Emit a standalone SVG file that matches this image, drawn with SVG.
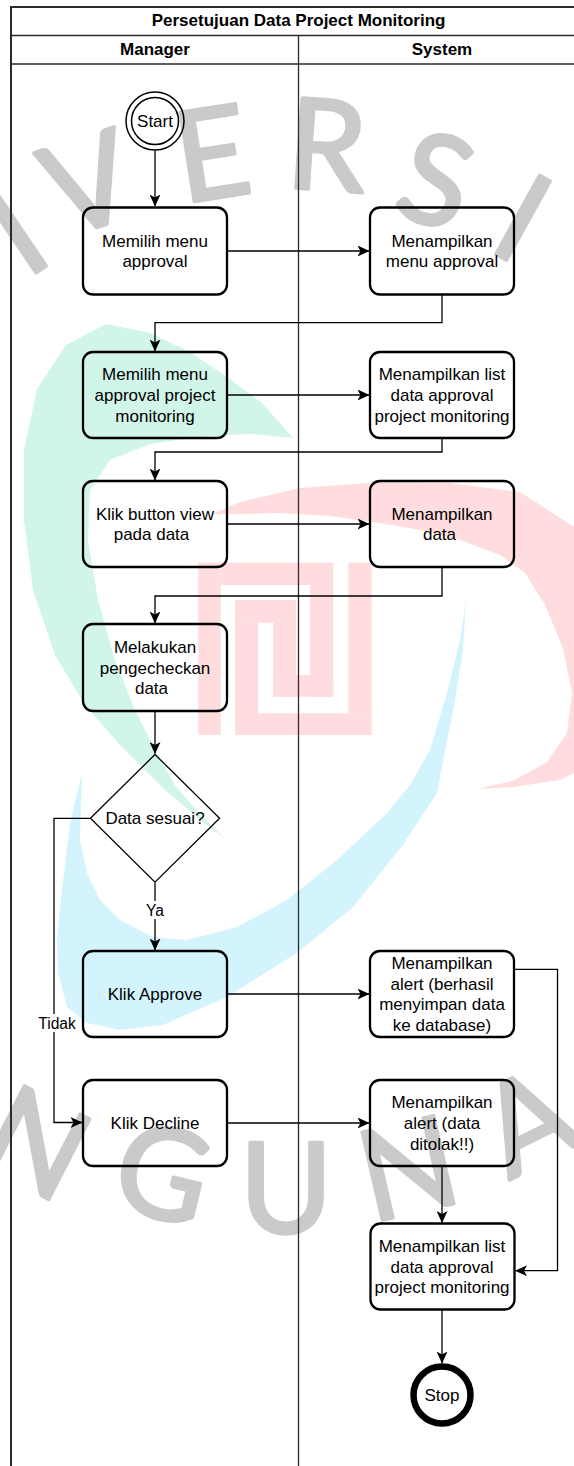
<svg xmlns="http://www.w3.org/2000/svg" width="574" height="1466" viewBox="0 0 574 1466">
<defs>
<style>
.wm{font-family:Lato,"Open Sans","DejaVu Sans",sans-serif;font-weight:400;font-size:126px;fill:#cacaca;stroke:#cacaca;stroke-width:3.5;stroke-linejoin:round;text-anchor:middle}
.frame{fill:none;stroke:#2b2b2b}
.box{fill:none;stroke:#000;stroke-width:2.3}
.t{font-family:"Liberation Sans",Arial,sans-serif;font-size:17px;fill:#000;text-anchor:middle}
.hb{font-family:"Liberation Sans",Arial,sans-serif;font-size:17px;font-weight:bold;fill:#000;text-anchor:middle}
.lbl{font-family:"Liberation Sans",Arial,sans-serif;font-size:15.6px;fill:#000;text-anchor:middle}
.ln{fill:none;stroke:#000;stroke-width:1.3}
</style>
<marker id="ah" markerWidth="12" markerHeight="11" refX="11.5" refY="5.5" orient="auto" markerUnits="userSpaceOnUse">
<path d="M0,0 L12,5.5 L0,11 L3,5.5 Z" fill="#000"/>
</marker>
</defs>
<rect width="574" height="1466" fill="#fff"/>
<g id="watermark">
<path fill="#d2f5e9" d="M293,438 L262,403 L227,377 L190,352 L150,333 L106,324 L66,345 L37,389 L24,450 L24,520 L33,590 L55,655 L85,705 L120,745 L165,790 L210,828 L250,855 L225,838 L200,815 L175,785 L155,750 L135,710 L115,660 L98,600 L88,540 L90,490 L110,460 L150,444 L200,437 L250,434 Z"/>
<path fill="#d4f4fd" d="M466,600 L463,650 L455,700 L437,793 L403,845 L353,907 L297,953 L227,997 L163,1025 L120,1030 L87,1023 L67,1007 L58,973 L57,940 L60,907 L70,823 L82,773 L80,840 L87,873 L100,900 L120,920 L153,937 L187,940 L237,927 L287,900 L337,860 L387,813 L410,785 L430,750 L447,693 L460,640 Z"/>
<path fill="#ffdcdd" d="M212,514 L240,502 L300,488 L380,482 L450,483 L520,492 L574,527 L610,570 L630,640 L625,720 L600,760 L560,780 L513,787 L477,789 L513,781 L547,762 L567,733 L572,693 L563,648 L545,605 L525,573 L500,555 L460,540 L420,530 L380,523 L330,516 L280,513 L240,514 Z"/>
<g fill="#ffdcdd">
<rect x="198.3" y="562.7" width="22.4" height="172.3"/>
<rect x="220.7" y="562.7" width="112.6" height="22.3"/>
<rect x="310" y="585" width="23.3" height="111.7"/>
<rect x="273.3" y="675" width="60" height="21.7"/>
<rect x="273.3" y="600" width="22.7" height="96.7"/>
<rect x="235" y="600" width="61" height="22.7"/>
<rect x="235" y="622.7" width="23.3" height="112.3"/>
<rect x="235" y="713.3" width="136.7" height="21.7"/>
<rect x="348.3" y="562.7" width="23.4" height="150.6"/>
</g>
<text class="wm" transform="translate(16,232) rotate(-34)" y="45">I</text>
<text class="wm" transform="translate(88,183) rotate(-18)" y="45">V</text>
<text class="wm" transform="translate(212,153) rotate(-9)" y="45">E</text>
<text class="wm" transform="translate(327,145) rotate(4)" y="45">R</text>
<text class="wm" transform="translate(436,180) rotate(17)" y="45">S</text>
<text class="wm" transform="translate(523,218) rotate(29)" y="45">I</text>
<text class="wm" transform="translate(38,1140) rotate(27)" y="48" font-size="134">N</text>
<text class="wm" transform="translate(163,1173) rotate(13.6)" y="45">G</text>
<text class="wm" transform="translate(286,1188)" y="45">U</text>
<text class="wm" transform="translate(408,1168) rotate(-13)" y="45">N</text>
<text class="wm" transform="translate(527,1121) rotate(-26.5)" y="45">A</text>
</g>
<g id="pool">
<path class="frame" stroke-width="2" d="M11,1470 V7 H590"/>
<path class="frame" stroke-width="1.5" d="M11,35.5 H590 M11,64 H590"/>
<path class="frame" stroke-width="1.3" d="M298.5,35.5 V1470"/>
<text class="hb" x="298.6" y="26.3">Persetujuan Data Project Monitoring</text>
<text class="hb" x="155" y="55.3">Manager</text>
<text class="hb" x="442" y="55.3">System</text>
</g>
<g id="connectors">
<path class="ln" marker-end="url(#ah)" d="M155,150.5 V206"/>
<path class="ln" marker-end="url(#ah)" d="M227,251 H369"/>
<path class="ln" marker-end="url(#ah)" d="M442,295 V322.7 H155 V351"/>
<path class="ln" marker-end="url(#ah)" d="M227,395 H369"/>
<path class="ln" marker-end="url(#ah)" d="M442,438.5 V452 H155 V480"/>
<path class="ln" marker-end="url(#ah)" d="M227,524 H369"/>
<path class="ln" marker-end="url(#ah)" d="M442,567.5 V596 H155 V623"/>
<path class="ln" marker-end="url(#ah)" d="M155,711.5 V753.5"/>
<path class="ln" marker-end="url(#ah)" d="M155,882.7 V950"/>
<rect x="144" y="901" width="22" height="18" fill="#fff"/>
<text class="lbl" x="155" y="915.6">Ya</text>
<path class="ln" marker-end="url(#ah)" d="M90.4,818.3 H54 V1122.5 H82"/>
<rect x="37" y="1014" width="40" height="18" fill="#fff"/>
<text class="lbl" x="57" y="1028.9">Tidak</text>
<path class="ln" marker-end="url(#ah)" d="M227,994 H369"/>
<path class="ln" marker-end="url(#ah)" d="M514,969.3 H557.5 V1270.7 H515.5"/>
<path class="ln" marker-end="url(#ah)" d="M227,1123 H369"/>
<path class="ln" marker-end="url(#ah)" d="M442,1166.5 V1222.5"/>
<path class="ln" marker-end="url(#ah)" d="M442,1309.5 V1363"/>
</g>
<g id="start">
<circle cx="155" cy="121" r="29" fill="none" stroke="#000" stroke-width="1.5"/>
<circle cx="155" cy="121" r="23.5" fill="none" stroke="#000" stroke-width="1.5"/>
<text class="t" x="155" y="127">Start</text>
</g>
<g id="n1">
<rect class="box" x="83" y="207.5" width="144" height="87" rx="10"/>
<text class="t" x="155" y="246.7">Memilih menu</text>
<text class="t" x="155" y="267.3">approval</text>
</g>
<g id="s1">
<rect class="box" x="370" y="207.5" width="144" height="87" rx="10"/>
<text class="t" x="442" y="246.7">Menampilkan</text>
<text class="t" x="442" y="267.3">menu approval</text>
</g>
<g id="n2">
<rect class="box" x="83" y="352" width="144" height="86" rx="10"/>
<text class="t" x="155" y="380.4">Memilih menu</text>
<text class="t" x="155" y="401">approval project</text>
<text class="t" x="155" y="421.6">monitoring</text>
</g>
<g id="s2">
<rect class="box" x="370" y="352" width="144" height="86" rx="10"/>
<text class="t" x="442" y="380.4">Menampilkan list</text>
<text class="t" x="442" y="401">data approval</text>
<text class="t" x="442" y="421.6">project monitoring</text>
</g>
<g id="n3">
<rect class="box" x="83" y="481" width="144" height="86" rx="10"/>
<text class="t" x="155" y="519.7">Klik button view</text>
<text class="t" x="151.5" y="540.3">pada data</text>
</g>
<g id="s3">
<rect class="box" x="370" y="481" width="144" height="86" rx="10"/>
<text class="t" x="442" y="519.7">Menampilkan</text>
<text class="t" x="439.5" y="540.3">data</text>
</g>
<g id="n4">
<rect class="box" x="83" y="624" width="144" height="87" rx="10"/>
<text class="t" x="155" y="652.9">Melakukan</text>
<text class="t" x="155" y="673.5">pengecheckan</text>
<text class="t" x="151.5" y="694.1">data</text>
</g>
<g id="decision">
<path d="M155,754.5 L219.6,818.3 L155,882.2 L90.4,818.3 Z" fill="none" stroke="#000" stroke-width="1.3"/>
<text class="t" x="155" y="824.3">Data sesuai?</text>
</g>
<g id="n5">
<rect class="box" x="83" y="951" width="144" height="86" rx="10"/>
<text class="t" x="155" y="1000">Klik Approve</text>
</g>
<g id="s4">
<rect class="box" x="370" y="951" width="144" height="86" rx="10"/>
<text class="t" x="442" y="969.1">Menampilkan</text>
<text class="t" x="442" y="989.7">alert (berhasil</text>
<text class="t" x="442" y="1010.3">menyimpan data</text>
<text class="t" x="442" y="1030.9">ke database)</text>
</g>
<g id="n6">
<rect class="box" x="83" y="1080" width="144" height="86" rx="10"/>
<text class="t" x="155" y="1129">Klik Decline</text>
</g>
<g id="s5">
<rect class="box" x="370" y="1080" width="144" height="86" rx="10"/>
<text class="t" x="442" y="1108.4">Menampilkan</text>
<text class="t" x="442" y="1129">alert (data</text>
<text class="t" x="442" y="1149.6">ditolak!!)</text>
</g>
<g id="s6">
<rect class="box" x="370.5" y="1223.5" width="144" height="86" rx="10"/>
<text class="t" x="442" y="1251.9">Menampilkan list</text>
<text class="t" x="442" y="1272.5">data approval</text>
<text class="t" x="442" y="1293.1">project monitoring</text>
</g>
<g id="stop">
<circle cx="442" cy="1395" r="28.5" fill="none" stroke="#000" stroke-width="6.5"/>
<text class="t" x="442" y="1401">Stop</text>
</g>
</svg>
